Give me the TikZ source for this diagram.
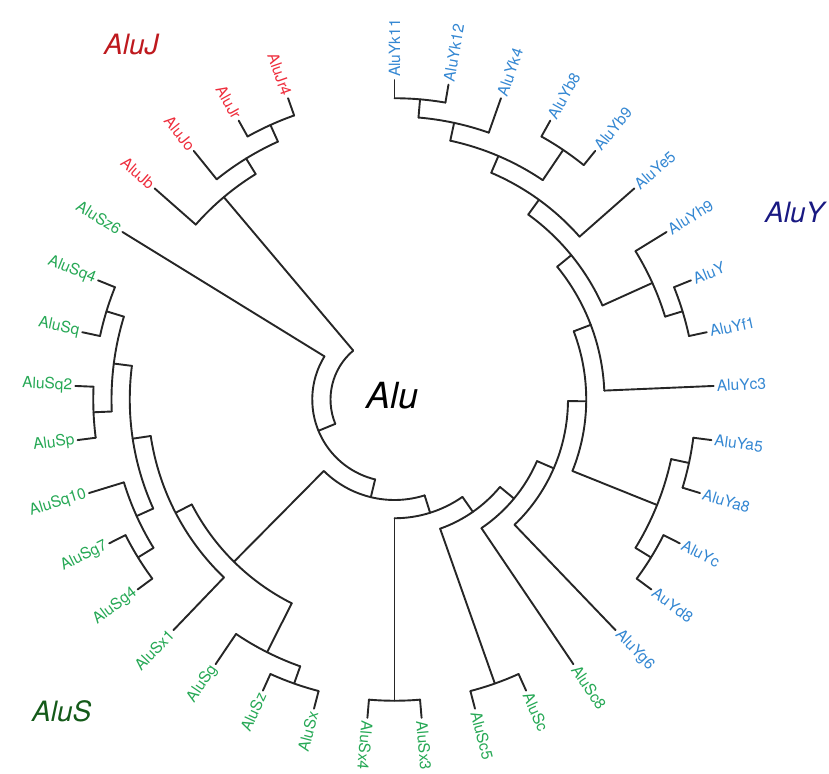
\documentclass[tikz,border=0pt]{standalone}
\usepackage{fontspec}
\setmainfont{TeX Gyre Heros}
\definecolor{ycol}{RGB}{52,135,210}
\definecolor{scol}{RGB}{38,168,85}
\definecolor{jcol}{RGB}{238,45,60}
\definecolor{jtit}{RGB}{190,25,30}
\definecolor{ytit}{RGB}{25,25,130}
\definecolor{stit}{RGB}{20,90,25}
\tikzset{
  branch/.style={line width=1.9pt, draw=black!85, line cap=round, line join=round},
  lab/.style={inner sep=3pt, font=\fontsize{15.5}{18}\selectfont},
  clade/.style={inner sep=0pt, anchor=base west, font=\fontsize{28}{32}\selectfont\itshape}
}
\newcommand\tbr[4]{% name, angle, r parent, r own
  \coordinate (#1-b) at (#2:#3);
  \coordinate (#1) at (#2:#4);
  \draw[branch] (#1-b) -- (#1);}
\newcommand\tarc[3]{\draw[branch] (#1:#3) arc[start angle=#1, end angle=#2, radius=#3];}
\newcommand\tlabo[4]{\node[lab,text=#4,anchor=west,rotate=#2] (t#1) at (#1) {#3};}
\newcommand\tlabi[4]{\node[lab,text=#4,anchor=east,rotate=#2] (t#1) at (#1) {#3};}
\begin{document}
\begin{tikzpicture}[x=1pt,y=1pt]
\useasboundingbox (-394.5,-373.5) rectangle (434.5,399.5);
% root
\tarc{-229.865}{-157.622}{64}
\tbr{B}{-157.622}{64}{82.25} \tarc{-211.622}{-103.623}{82.25}
\tbr{Sz6}{-211.622}{82.25}{319.5}
\tbr{C}{-103.623}{82.25}{100.5} \tarc{-134.696}{-72.55}{100.5}
\tbr{D}{-134.696}{100.5}{228.25} \tarc{-152.635}{-116.757}{228.25}
\tbr{E}{-72.55}{100.5}{118.75} \tarc{-90}{-55.1}{118.75}
\tbr{F}{-90}{118.75}{301.25} \tarc{-94.865}{-85.135}{301.25}
\tbr{Sx4}{-94.865}{301.25}{319.5}
\tbr{Sx3}{-85.135}{301.25}{319.5}
\tbr{G}{-55.1}{118.75}{137} \tarc{-70.541}{-39.66}{137}
\tbr{W}{-70.541}{137}{301.25} \tarc{-75.405}{-65.676}{301.25}
\tbr{Sc5}{-75.405}{301.25}{319.5}
\tbr{Sc}{-65.676}{301.25}{319.5}
\tbr{H}{-39.66}{137}{155.25} \tarc{-55.946}{-23.374}{155.25}
\tbr{Sc8}{-55.946}{155.25}{319.5}
\tbr{I}{-23.374}{155.25}{173.5} \tarc{-46.216}{-0.532}{173.5}
\tbr{Yg6}{-46.216}{173.5}{319.5}
\tbr{Jn}{-0.532}{173.5}{191.75} \tarc{-21.892}{20.828}{191.75}
\tbr{K}{-21.892}{191.75}{283} \tarc{-31.622}{-12.162}{283}
\tbr{U}{-12.162}{283}{301.25} \tarc{-17.027}{-7.297}{301.25}
\tbr{Ya5}{-7.297}{301.25}{319.5}
\tbr{Ya8}{-17.027}{301.25}{319.5}
\tbr{V}{-31.622}{283}{301.25} \tarc{-36.486}{-26.757}{301.25}
\tbr{Yc}{-26.757}{301.25}{319.5}
\tbr{Yd8}{-36.486}{301.25}{319.5}
\tbr{L}{20.828}{191.75}{210} \tarc{2.432}{39.223}{210}
\tbr{Yc3}{2.432}{210}{319.5}
\tbr{M}{39.223}{210}{228.25} \tarc{24.324}{54.122}{228.25}
\tbr{N}{24.324}{228.25}{283} \tarc{17.027}{31.622}{283}
\tbr{Yh9}{31.622}{283}{319.5}
\tbr{T}{17.027}{283}{301.25} \tarc{12.162}{21.892}{301.25}
\tbr{AluY}{21.892}{301.25}{319.5}
\tbr{Yf1}{12.162}{301.25}{319.5}
\tbr{O}{54.122}{228.25}{246.5} \tarc{41.351}{66.892}{246.5}
\tbr{Ye5}{41.351}{246.5}{319.5}
\tbr{P}{66.892}{246.5}{264.75} \tarc{55.946}{77.838}{264.75}
\tbr{Q}{55.946}{264.75}{301.25} \tarc{51.081}{60.811}{301.25}
\tbr{Yb8}{60.811}{301.25}{319.5}
\tbr{Yb9}{51.081}{301.25}{319.5}
\tbr{R}{77.838}{264.75}{283} \tarc{70.541}{85.135}{283}
\tbr{Yk4}{70.541}{283}{319.5}
\tbr{S}{85.135}{283}{301.25} \tarc{80.27}{90}{301.25}
\tbr{Yk12}{80.27}{301.25}{319.5}
\tbr{Yk11}{90}{301.25}{319.5}
\tbr{X}{-152.635}{228.25}{246.5} \tarc{-171.487}{-133.784}{246.5}
\tbr{Sx1}{-133.784}{246.5}{319.5}
\tbr{AA}{-171.487}{246.5}{264.75} \tarc{-187.297}{-155.676}{264.75}
\tbr{AB}{-187.297}{264.75}{283} \tarc{-197.027}{-177.568}{283}
\tbr{AF}{-177.568}{283}{301.25} \tarc{-182.432}{-172.703}{301.25}
\tbr{Sp}{-172.703}{301.25}{319.5}
\tbr{Sq2}{-182.432}{301.25}{319.5}
\tbr{AE}{-197.027}{283}{301.25} \tarc{-201.892}{-192.162}{301.25}
\tbr{Sq}{-192.162}{301.25}{319.5}
\tbr{Sq4}{-201.892}{301.25}{319.5}
\tbr{AC}{-155.676}{264.75}{283} \tarc{-162.973}{-148.378}{283}
\tbr{Sq10}{-162.973}{283}{319.5}
\tbr{AD}{-148.378}{283}{301.25} \tarc{-153.243}{-143.514}{301.25}
\tbr{Sg7}{-153.243}{301.25}{319.5}
\tbr{Sg4}{-143.514}{301.25}{319.5}
\tbr{Yn}{-116.757}{228.25}{283} \tarc{-124.054}{-109.459}{283}
\tbr{Sg}{-124.054}{283}{319.5}
\tbr{Z}{-109.459}{283}{301.25} \tarc{-114.324}{-104.595}{301.25}
\tbr{Sz}{-114.324}{301.25}{319.5}
\tbr{Sx}{-104.595}{301.25}{319.5}
\tbr{Jc}{-229.865}{64}{264.75} \tarc{-238.378}{-221.351}{264.75}
\tbr{Jb}{-221.351}{264.75}{319.5}
\tbr{JA}{-238.378}{264.75}{283} \tarc{-245.676}{-231.081}{283}
\tbr{Jo}{-231.081}{283}{319.5}
\tbr{JB}{-245.676}{283}{301.25} \tarc{-250.541}{-240.811}{301.25}
\tbr{Jr}{-240.811}{301.25}{319.5}
\tbr{Jr4}{-250.541}{301.25}{319.5}
% labels, outward
\tlabo{Yk11}{90}{AluYk11}{ycol}
\tlabo{Yk12}{80.27}{AluYk12}{ycol}
\tlabo{Yk4}{70.541}{AluYk4}{ycol}
\tlabo{Yb8}{60.811}{AluYb8}{ycol}
\tlabo{Yb9}{51.081}{AluYb9}{ycol}
\tlabo{Ye5}{41.351}{AluYe5}{ycol}
\tlabo{Yh9}{31.622}{AluYh9}{ycol}
\tlabo{AluY}{21.892}{AluY}{ycol}
\tlabo{Yf1}{12.162}{AluYf1}{ycol}
\tlabo{Yc3}{2.432}{AluYc3}{ycol}
\tlabo{Ya5}{-7.297}{AluYa5}{ycol}
\tlabo{Ya8}{-17.027}{AluYa8}{ycol}
\tlabo{Yc}{-26.757}{AluYc}{ycol}
\tlabo{Yd8}{-36.486}{AuYd8}{ycol}
\tlabo{Yg6}{-46.216}{AluYg6}{ycol}
\tlabo{Sc8}{-55.946}{AluSc8}{scol}
\tlabo{Sc}{-65.676}{AluSc}{scol}
\tlabo{Sc5}{-75.405}{AluSc5}{scol}
\tlabo{Sx3}{-85.135}{AluSx3}{scol}
\tlabo{Sx4}{-94.865}{AluSx4}{scol}
% labels, flipped
\tlabi{Sx}{75.405}{AluSx}{scol}
\tlabi{Sz}{65.676}{AluSz}{scol}
\tlabi{Sg}{55.946}{AluSg}{scol}
\tlabi{Sx1}{46.216}{AluSx1}{scol}
\tlabi{Sg4}{36.486}{AluSg4}{scol}
\tlabi{Sg7}{26.757}{AluSg7}{scol}
\tlabi{Sq10}{17.027}{AluSq10}{scol}
\tlabi{Sp}{7.297}{AluSp}{scol}
\tlabi{Sq2}{-2.432}{AluSq2}{scol}
\tlabi{Sq}{-12.162}{AluSq}{scol}
\tlabi{Sq4}{-21.892}{AluSq4}{scol}
\tlabi{Sz6}{-31.622}{AluSz6}{scol}
\tlabi{Jb}{-41.351}{AluJb}{jcol}
\tlabi{Jo}{-51.081}{AluJo}{jcol}
\tlabi{Jr}{-60.811}{AluJr}{jcol}
\tlabi{Jr4}{-70.541}{AluJr4}{jcol}
% clade titles
\node[clade, text=jtit] (cJ) at (-290.5,344.5) {AluJ};
\node[clade, text=ytit] (cY) at (370.5,176.5) {AluY};
\node[clade, text=stit] (cS) at (-362.5,-321.5) {AluS};
\node[clade, font=\fontsize{36}{40}\selectfont\itshape] (cA) at (-28.5,-9.5) {Alu};
\end{tikzpicture}
\end{document}
